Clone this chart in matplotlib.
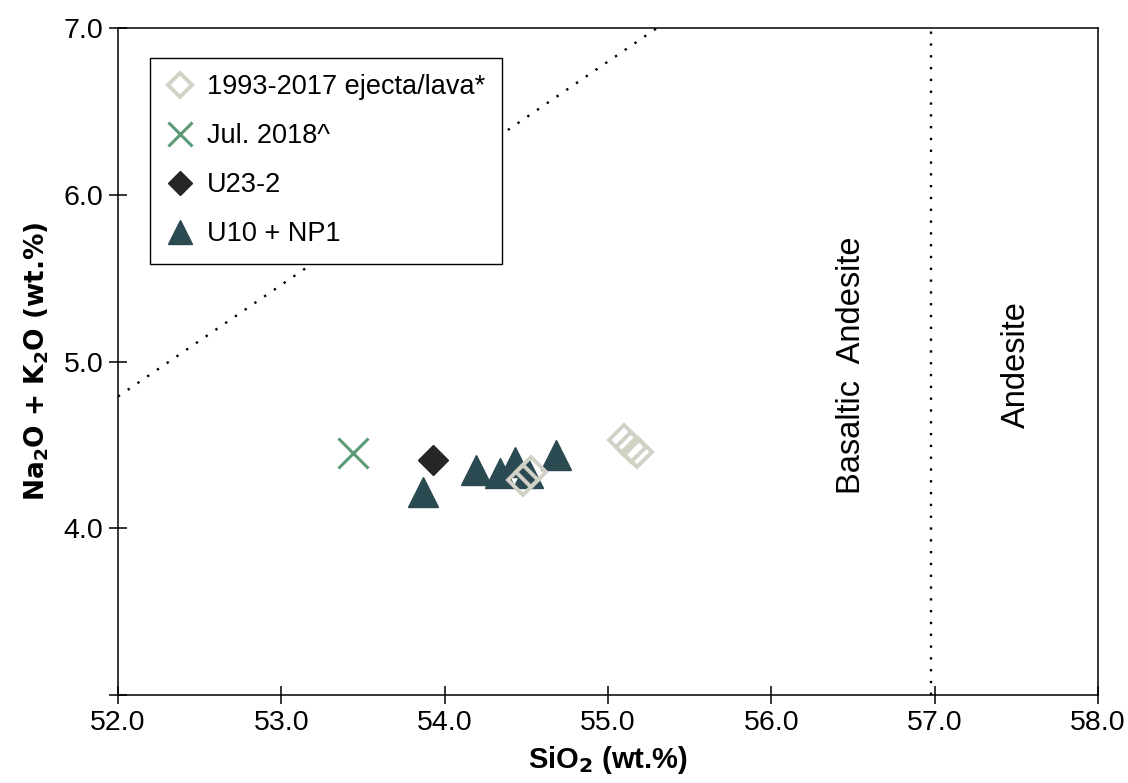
import matplotlib
matplotlib.use("Agg")
import matplotlib.pyplot as plt

plt.rcParams['font.family'] = ['Liberation Sans', 'DejaVu Sans']
plt.rcParams['mathtext.fontset'] = 'dejavusans'

# 1993-2017 ejecta/lava*
old_sio2 = [54.48, 54.53, 55.10, 55.14, 55.18]
old_alk = [4.29, 4.34, 4.53, 4.49, 4.455]
# Jul. 2018^
jul_sio2 = [53.44]
jul_alk = [4.45]
# U23-2
u23_sio2 = [53.93]
u23_alk = [4.41]
# U10 + NP1
u10_sio2 = [53.87, 54.19, 54.34, 54.43, 54.51, 54.68]
u10_alk = [4.22, 4.35, 4.33, 4.40, 4.33, 4.44]

# classification boundaries
diag_x = [52.0, 55.3]
diag_y = [4.79, 7.0]
ba_a_x = [56.98, 56.98]
ba_a_y = [3.0, 7.0]

xticks = [52, 53, 54, 55, 56, 57, 58]
yticks = [3, 4, 5, 6, 7]
ytick_labels = ['', '4.0', '5.0', '6.0', '7.0']

fig = plt.figure(figsize=(11.28, 7.83), dpi=100)
ax = fig.add_axes([0.1046, 0.1124, 0.8688, 0.8518])

ax.plot(diag_x, diag_y, color='black', lw=1.7, ls=(0, (1, 4)), zorder=1)
ax.plot(ba_a_x, ba_a_y, color='black', lw=1.7, ls=(0, (1, 4)), zorder=1)

ax.plot(u10_sio2, u10_alk, ls='none', marker='^', ms=21, color='#2c4a52',
        mec='#2c4a52', label='U10 + NP1', zorder=3)
ax.plot(old_sio2, old_alk, ls='none', marker='D', ms=15.5, mfc='none',
        mec='#d2d1c6', mew=2.8, label='1993-2017 ejecta/lava*', zorder=4)
ax.plot(jul_sio2, jul_alk, ls='none', marker='x', ms=21, mew=2.2,
        color='#5a9a76', label='Jul. 2018^', zorder=3)
ax.plot(u23_sio2, u23_alk, ls='none', marker='D', ms=15.5, color='#262626',
        label='U23-2', zorder=3)

ax.text(56.49, 4.98, 'Basaltic  Andesite', rotation=90, fontsize=23.5,
        ha='center', va='center')
ax.text(57.50, 4.98, 'Andesite', rotation=90, fontsize=23.5,
        ha='center', va='center')

ax.set_xlim(52, 58)
ax.set_ylim(3, 7)
ax.set_xticks(xticks)
ax.set_xticklabels([f'{v:.1f}' for v in xticks])
ax.set_yticks(yticks)
ax.set_yticklabels(ytick_labels)
ax.tick_params(direction='inout', length=13, width=1.1, labelsize=20.5, pad=4)
for s in ax.spines.values():
    s.set_linewidth(1.1)

ax.set_xlabel(r'SiO$_\mathbf{2}$ (wt.%)', fontsize=21, fontweight='bold', labelpad=6)
ax.set_ylabel(r'Na$_\mathbf{2}$O + K$_\mathbf{2}$O (wt.%)', fontsize=19,
              fontweight='bold', family='DejaVu Sans', labelpad=9)

handles, labels = ax.get_legend_handles_labels()
order = [1, 2, 3, 0]
leg = ax.legend([handles[i] for i in order], [labels[i] for i in order],
                loc='upper left', bbox_to_anchor=(0.033, 0.955), fontsize=19.5,
                markerscale=0.8, fancybox=False, framealpha=1,
                edgecolor='black', handlelength=1.0, handletextpad=0.5,
                labelspacing=0.85, borderpad=0.6, borderaxespad=0)
leg.get_frame().set_linewidth(1.0)

fig.savefig('out.png', dpi=100)
